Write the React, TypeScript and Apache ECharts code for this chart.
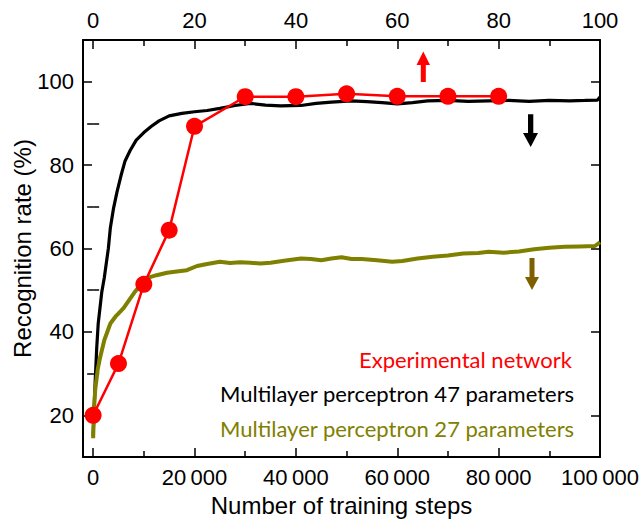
import React, { useEffect, useRef } from "react";
import * as echarts from "echarts";

const expSteps = [0, 5000, 10000, 15000, 20000, 30000, 40000, 50000, 60000, 70000, 80000];
const expRate = [20, 32.4, 51.4, 64.4, 89.3, 96.4, 96.4, 97.1, 96.5, 96.5, 96.5];

const mlp47Steps = [0, 200, 400, 700, 1000, 1700, 2200, 3000, 3400, 4000, 4700, 5500, 6300, 7300, 8500, 10000, 11500, 13000, 15000, 17500, 20000, 22500, 25000, 28000, 31000, 34000, 37000, 41000, 44000, 47000, 51000, 54000, 57000, 60000, 63000, 66000, 70000, 74000, 78000, 82000, 86000, 90000, 94000, 97000, 99500, 100000];
const mlp47Rate = [15, 22, 28, 36, 42, 49.5, 53, 60, 65, 69.5, 73.5, 77.5, 81, 83.5, 86, 87.8, 89.3, 90.6, 91.8, 92.4, 92.8, 93.1, 93.6, 94.3, 94.8, 94.4, 94.2, 94.3, 94.8, 95.1, 95.4, 95.2, 95.0, 94.7, 95.0, 95.4, 95.5, 95.3, 95.4, 95.5, 95.3, 95.5, 95.4, 95.5, 95.6, 96.3];

const mlp27Steps = [0, 200, 400, 900, 1400, 2200, 3400, 4500, 6000, 7200, 8300, 9500, 10600, 12500, 14600, 16500, 18500, 20500, 22500, 25000, 27000, 29000, 31000, 33000, 35000, 38000, 41000, 43000, 45000, 47000, 49000, 51000, 53000, 56000, 59000, 61000, 64000, 67000, 70000, 73000, 76000, 78000, 81000, 84000, 87000, 90000, 93000, 96000, 99000, 100000];
const mlp27Rate = [14.5, 22, 26, 31, 34, 38, 42, 43.8, 45.7, 47.8, 49.7, 51.5, 52.9, 53.6, 54.2, 54.5, 54.8, 55.8, 56.3, 56.8, 56.5, 56.7, 56.6, 56.4, 56.6, 57.1, 57.6, 57.5, 57.2, 57.6, 57.9, 57.5, 57.5, 57.2, 56.8, 57.0, 57.6, 58.0, 58.3, 58.8, 58.9, 59.2, 59.0, 59.3, 59.8, 60.2, 60.4, 60.5, 60.6, 61.5];

const xMajorTicks = [0, 20000, 40000, 60000, 80000, 100000];
const xMinorTicks = [10000, 30000, 50000, 70000, 90000];
const topMajorTicks = [0, 20, 40, 60, 80, 100];
const topMinorTicks = [10, 30, 50, 70, 90];
const yMajorTicks = [20, 40, 60, 80, 100];
const yMinorTicks = [30, 50, 70, 90];

const legendLabels = ["Experimental network", "Multilayer perceptron 47 parameters", "Multilayer perceptron 27 parameters"];

const RED = "#ff0000";
const BLACK = "#000000";
const OLIVE = "#808000";
const BROWN = "#7f6000";

const zip = (xs: number[], ys: number[]) => xs.map((x, i) => [x, ys[i]]);

const fmtX = (v: number) => {
  if (v === 0) return "0";
  const s = String(Math.round(v));
  return s.slice(0, s.length - 3) + "\u2009" + s.slice(s.length - 3);
};

const ARIAL = "Arial, 'Liberation Sans', sans-serif";
const tickFont = { fontFamily: ARIAL, fontSize: 22, color: "#000" };
const titleFont = { fontFamily: ARIAL, fontSize: 24, color: "#000" };

function xAxisDef(pos: "top" | "bottom", min: number, max: number, major: number[], minor: number[], labels: boolean) {
  return [
    {
      type: "value", position: pos, min, max,
      axisLine: { show: true, onZero: false, lineStyle: { color: "#000", width: 2 } },
      axisTick: { show: true, inside: true, length: 9, customValues: major, lineStyle: { color: "#000", width: 1.5 } },
      axisLabel: { show: labels, customValues: major, margin: 9, ...tickFont, formatter: pos === "bottom" ? fmtX : (v: number) => String(v) },
      splitLine: { show: false },
      ...(pos === "bottom" ? { name: "Number of training steps", nameLocation: "middle", nameGap: 36, nameMoveOverlap: false, nameTextStyle: titleFont } : {}),
    },
    {
      type: "value", position: pos, min, max,
      axisLine: { show: false },
      axisTick: { show: true, inside: true, length: 6, customValues: minor, lineStyle: { color: "#000", width: 1.5 } },
      axisLabel: { show: false },
      splitLine: { show: false },
    },
  ];
}

function yAxisDef(pos: "left" | "right", labels: boolean) {
  return [
    {
      type: "value", position: pos, min: 10, max: 110,
      axisLine: { show: true, onZero: false, lineStyle: { color: "#000", width: 2 } },
      axisTick: { show: true, inside: true, length: 9, customValues: yMajorTicks, lineStyle: { color: "#000", width: 1.5 } },
      axisLabel: { show: labels, customValues: yMajorTicks, margin: 9, ...tickFont },
      splitLine: { show: false },
      ...(pos === "left" ? { name: "Recognition rate (%)", nameLocation: "middle", nameGap: 49, nameMoveOverlap: false, nameTextStyle: titleFont } : {}),
    },
    {
      type: "value", position: pos, min: 10, max: 110,
      axisLine: { show: false },
      axisTick: { show: true, inside: true, length: 6, customValues: yMinorTicks, lineStyle: { color: "#000", width: 1.5 } },
      axisLabel: { show: false },
      splitLine: { show: false },
    },
  ];
}

const arrow = (pts: number[][], color: string) => ({
  type: "polygon", shape: { points: pts }, style: { fill: color }, silent: true, z: 100,
});

export default function App() {
  const ref = useRef<HTMLDivElement>(null);
  useEffect(() => {
    document.body.style.margin = "0";
    if (!ref.current) return;
    const chart = echarts.init(ref.current, null, { renderer: "svg" });
    const legendFont = { fontFamily: "Lato", fontSize: 22 };
    chart.setOption({
      animation: false,
      backgroundColor: "#fff",
      grid: { left: 83, right: 42, top: 40, bottom: 63, containLabel: false, outerBoundsMode: "none" },
      xAxis: [
        ...xAxisDef("bottom", -2000, 100000, xMajorTicks, xMinorTicks, true),
        ...xAxisDef("top", -2, 100, topMajorTicks, topMinorTicks, true),
      ],
      yAxis: [...yAxisDef("left", true), ...yAxisDef("right", false)],
      series: [
        {
          type: "line", name: legendLabels[1], data: zip(mlp47Steps, mlp47Rate),
          xAxisIndex: 0, yAxisIndex: 0, showSymbol: false, symbol: "none",
          lineStyle: { color: BLACK, width: 3.2 }, z: 2,
        },
        {
          type: "line", name: legendLabels[2], data: zip(mlp27Steps, mlp27Rate),
          xAxisIndex: 0, yAxisIndex: 0, showSymbol: false, symbol: "none",
          lineStyle: { color: OLIVE, width: 4 }, z: 3,
        },
        {
          type: "line", name: legendLabels[0], data: zip(expSteps, expRate),
          xAxisIndex: 0, yAxisIndex: 0, symbol: "circle", symbolSize: 17,
          itemStyle: { color: RED }, lineStyle: { color: RED, width: 2.5 }, z: 4,
        },
      ],
      graphic: [
        arrow([[420.8, 82], [420.8, 65], [416.5, 65], [423.3, 51.5], [430, 65], [425.8, 65], [425.8, 82]], RED),
        arrow([[528, 114.3], [528, 133], [523, 133], [530.7, 147], [538, 133], [533.3, 133], [533.3, 114.3]], BLACK),
        arrow([[529.5, 258], [529.5, 277], [525, 277], [532, 290], [539, 277], [534.5, 277], [534.5, 258]], BROWN),
        { type: "text", x: 359, y: 359, style: { text: legendLabels[0], fill: RED, ...legendFont, textVerticalAlign: "middle" } },
        { type: "text", x: 220, y: 393, style: { text: legendLabels[1], fill: BLACK, ...legendFont, textVerticalAlign: "middle" } },
        { type: "text", x: 220, y: 428, style: { text: legendLabels[2], fill: OLIVE, ...legendFont, textVerticalAlign: "middle" } },
      ],
    });
    return () => chart.dispose();
  }, []);
  return <div ref={ref} style={{ width: 642, height: 520 }} />;
}
